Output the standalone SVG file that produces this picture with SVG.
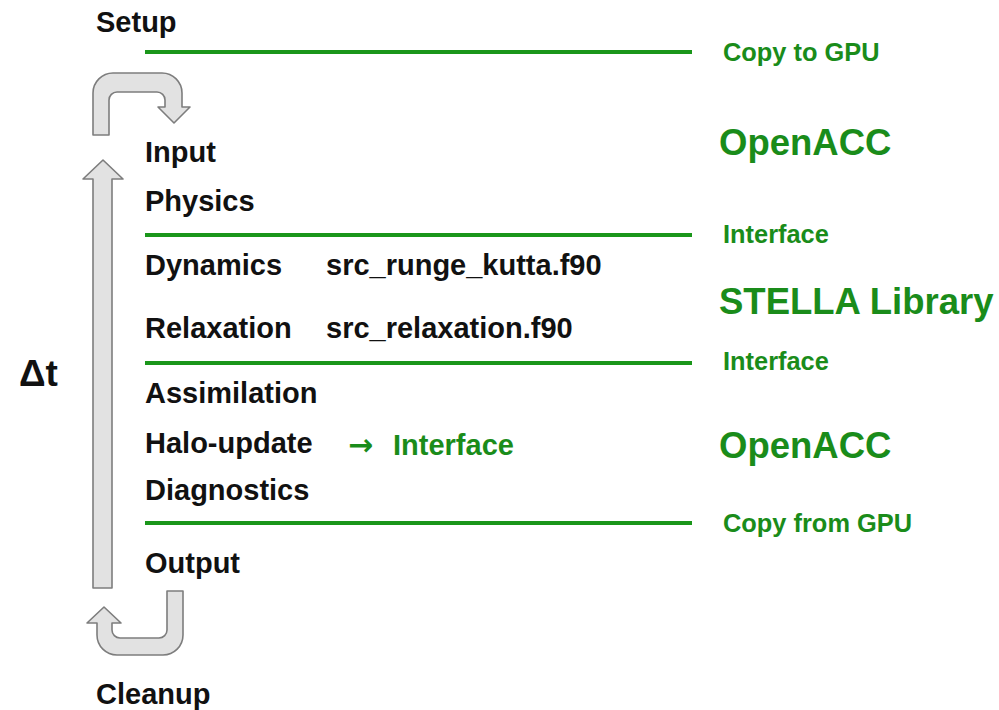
<svg xmlns="http://www.w3.org/2000/svg" width="999" height="710" viewBox="0 0 999 710">
<style>
.b{font-family:"Liberation Sans",Arial,sans-serif;font-weight:bold;font-size:29px;fill:#111}
.g{font-family:"Liberation Sans",Arial,sans-serif;font-weight:bold;font-size:25.4px;fill:#1a8c1a}
.G{font-family:"Liberation Sans",Arial,sans-serif;font-weight:bold;font-size:36.5px;fill:#1a8c1a}
.sep{stroke:#1a961a;stroke-width:4;fill:none}
.arr{fill:#e2e2e2;stroke:#7d7d7d;stroke-width:1.6;stroke-linejoin:round}
</style>
<rect width="999" height="710" fill="#fff"/>
<g id="connectors">
<line class="sep" x1="145" y1="52" x2="692" y2="52"/>
<line class="sep" x1="145" y1="235" x2="692" y2="235"/>
<line class="sep" x1="145" y1="363" x2="692" y2="363"/>
<line class="sep" x1="145" y1="523" x2="692" y2="523"/>
<path class="arr" d="M93,135 L93,93 A20,20 0 0 1 113,73 L162,73 A20,20 0 0 1 182,93 L182,107 L190,107 L174,123 L158,107 L165,107 L165,100 A8,8 0 0 0 157,92 L117,92 A8,8 0 0 0 109,100 L109,135 Z"/>
<path class="arr" d="M93,588 L93,179 L83,179 L103,160 L123,179 L112,179 L112,588 Z"/>
<path class="arr" d="M183,591 L183,635 A20,20 0 0 1 163,655 L117,655 A20,20 0 0 1 97,635 L97,623 L87,623 L104,607 L121,623 L112,623 L112,630 A8,8 0 0 0 120,638 L159,638 A8,8 0 0 0 167,630 L167,591 Z"/>
</g>
<g id="setup"><text class="b" x="96" y="32">Setup</text></g>
<g id="input"><text class="b" x="145" y="162">Input</text></g>
<g id="physics"><text class="b" x="145" y="211">Physics</text></g>
<g id="dynamics"><text class="b" x="145" y="275">Dynamics</text><text class="b" x="326" y="275">src_runge_kutta.f90</text></g>
<g id="relaxation"><text class="b" x="145" y="338">Relaxation</text><text class="b" x="326" y="338">src_relaxation.f90</text></g>
<g id="assimilation"><text class="b" x="145" y="403">Assimilation</text></g>
<g id="halo-update"><text class="b" x="145" y="453">Halo-update</text><text class="g" x="348" y="455" style="font-size:29px"><tspan style="font-family:'DejaVu Sans',sans-serif;font-weight:bold;font-size:30px">→</tspan><tspan x="393">Interface</tspan></text></g>
<g id="diagnostics"><text class="b" x="145" y="500">Diagnostics</text></g>
<g id="output"><text class="b" x="145" y="573">Output</text></g>
<g id="cleanup"><text class="b" x="96" y="704">Cleanup</text></g>
<g id="dt"><text class="b" x="19" y="386" style="font-size:37px">Δt</text></g>
<g id="labels">
<text class="g" x="723" y="61">Copy to GPU</text>
<text class="G" x="719" y="155">OpenACC</text>
<text class="g" x="723" y="243">Interface</text>
<text class="G" x="719" y="314">STELLA Library</text>
<text class="g" x="723" y="370">Interface</text>
<text class="G" x="719" y="458">OpenACC</text>
<text class="g" x="723" y="532">Copy from GPU</text>
</g>
</svg>
